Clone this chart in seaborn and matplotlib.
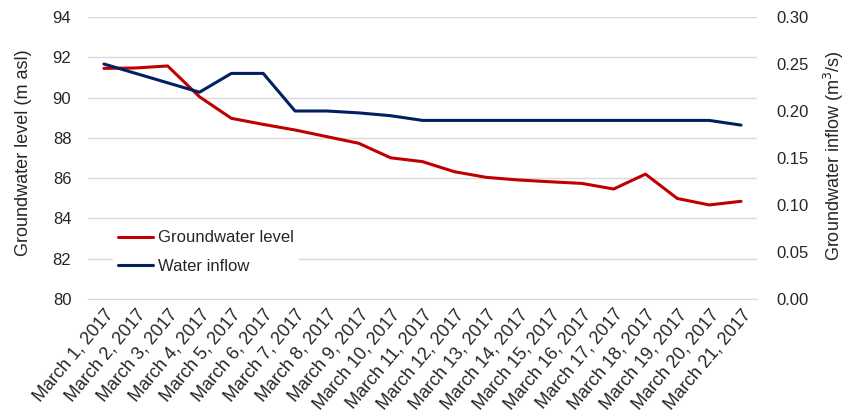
import matplotlib
matplotlib.use("Agg")
import matplotlib.pyplot as plt
import seaborn as sns
import pandas as pd
from matplotlib.ticker import FixedLocator, FormatStrFormatter

# Data
dates = [f"March {d}, 2017" for d in range(1, 22)]
groundwater_level = [91.45, 91.47, 91.57, 90.04, 88.97, 88.67, 88.39, 88.06, 87.73,
                     87.01, 86.82, 86.32, 86.04, 85.91, 85.82, 85.74, 85.46, 86.20,
                     84.99, 84.67, 84.85]
water_inflow = [0.250, 0.240, 0.230, 0.220, 0.240, 0.240, 0.200, 0.200, 0.198,
                0.195, 0.190, 0.190, 0.190, 0.190, 0.190, 0.190, 0.190, 0.190,
                0.190, 0.190, 0.185]

df = pd.DataFrame({"x": range(len(dates)), "level": groundwater_level, "inflow": water_inflow})

sns.set_style("white")
plt.rcParams["font.family"] = ["Liberation Sans", "DejaVu Sans"]
plt.rcParams["font.size"] = 12

fig, ax = plt.subplots(figsize=(8.51, 4.17), dpi=100)
fig.subplots_adjust(left=0.1034, right=0.8895, top=0.9592, bottom=0.283)
ax2 = ax.twinx()

sns.lineplot(data=df, x="x", y="level", ax=ax, color="#C00000", lw=2.2, label="Groundwater level", legend=False)
sns.lineplot(data=df, x="x", y="inflow", ax=ax2, color="#002060", lw=2.2, label="Water inflow", legend=False)

grid_c = "#d9d9d9"
ax.set_ylim(80, 94)
ax.set_yticks(range(80, 95, 2))
ax2.set_ylim(0, 0.30)
ax2.set_yticks([0, 0.05, 0.10, 0.15, 0.20, 0.25, 0.30])
ax2.yaxis.set_major_formatter(FormatStrFormatter("%.2f"))
ax.grid(axis="y", color=grid_c, lw=1)
ax.set_axisbelow(True)

# category axis with tick marks between the categories
ax.set_xlim(-0.5, len(dates) - 0.5)
ax.set_xticks(range(len(dates)))
ax.set_xticklabels(dates, rotation=50, ha="right", rotation_mode="anchor")
ax.xaxis.set_minor_locator(FixedLocator([i - 0.5 for i in range(len(dates) + 1)]))
ax.tick_params(axis="x", which="major", length=0, pad=5, labelsize=13)
ax.tick_params(axis="x", which="minor", length=5, color=grid_c, width=1)
ax.tick_params(axis="y", length=0, pad=12, labelsize=12)
ax2.tick_params(axis="y", length=0, pad=14, labelsize=12)

for a in (ax, ax2):
    for s in ["top", "left", "right"]:
        a.spines[s].set_visible(False)
ax.spines["bottom"].set_color(grid_c)
ax2.spines["bottom"].set_visible(False)

ax.set_xlabel("")
ax.set_ylabel("Groundwater level (m asl)", fontsize=13)
ax2.set_ylabel("Groundwater inflow (m$^3$/s)", fontsize=13)
ax.yaxis.set_label_coords(-0.083, 0.52)
ax2.yaxis.set_label_coords(1.097, 0.51)

h1, l1 = ax.get_legend_handles_labels()
h2, l2 = ax2.get_legend_handles_labels()
leg = ax2.legend(h1 + h2, l1 + l2, loc="lower left", bbox_to_anchor=(0.025, 0.042),
                 frameon=True, facecolor="white", edgecolor="none", framealpha=1,
                 handlelength=2.1, handletextpad=0.3, labelspacing=0.8, fontsize=12,
                 borderpad=0.3)

fig.savefig("out.png", dpi=100)
